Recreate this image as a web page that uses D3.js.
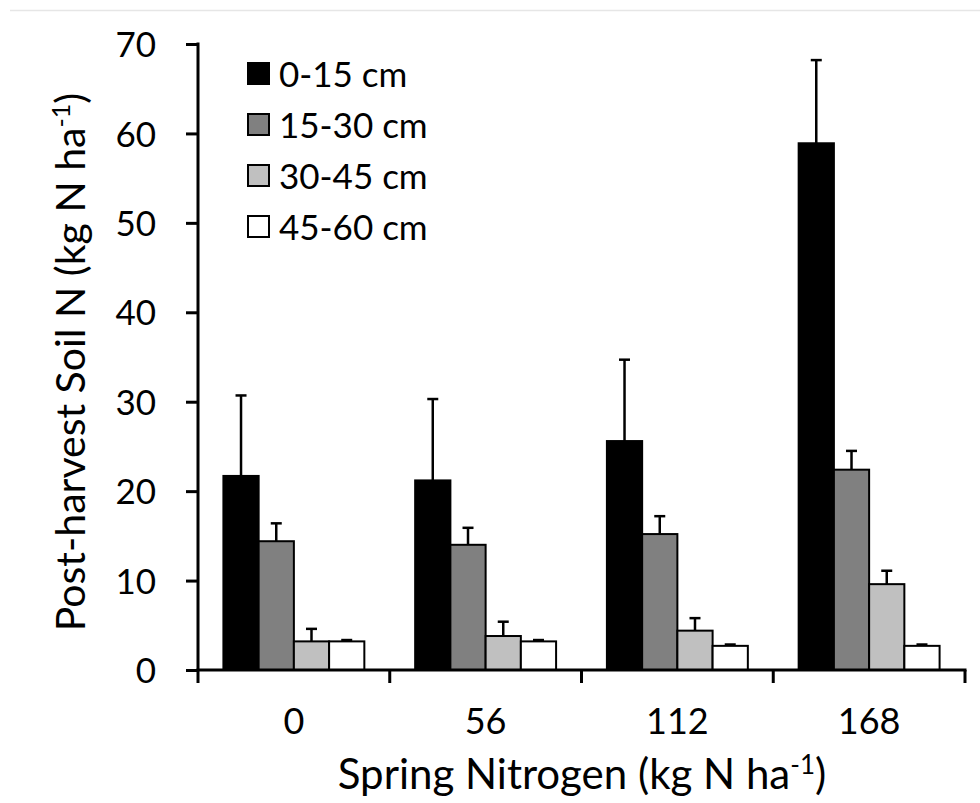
<!DOCTYPE html>
<html>
<head>
<meta charset="utf-8">
<script src="https://cdn.jsdelivr.net/npm/d3@7"></script>
<style>
html, body { margin: 0; padding: 0; background: #fff; }
svg text { font-family: Lato, "Open Sans", sans-serif; fill: #000; }
</style>
</head>
<body>
<svg id="chart" width="980" height="803"></svg>
<script>
(function(){
// spring N rates (kg N/ha) and soil depth layers
var categories = ["0", "56", "112", "168"];
var series = ["0-15 cm", "15-30 cm", "30-45 cm", "45-60 cm"];
var seriesColors = ["#000000", "#808080", "#c0c0c0", "#ffffff"];
// mean post-harvest soil N per layer, one array per depth
var depth0_15 = [21.7, 21.2, 25.6, 58.9];
var depth15_30 = [14.4, 14.0, 15.2, 22.4];
var depth30_45 = [3.2, 3.8, 4.4, 9.6];
var depth45_60 = [3.2, 3.2, 2.7, 2.7];
// upper error (standard error) per layer
var err0_15 = [9.0, 9.1, 9.1, 9.3];
var err15_30 = [2.0, 1.9, 2.0, 2.1];
var err30_45 = [1.4, 1.6, 1.4, 1.5];
var err45_60 = [0.15, 0.15, 0.15, 0.15];
var yTicks = [0, 10, 20, 30, 40, 50, 60, 70];

var values = [depth0_15, depth15_30, depth30_45, depth45_60];
var errors = [err0_15, err15_30, err30_45, err45_60];

var svg = d3.select("#chart");
var left = 198, right = 965, top = 44, bottom = 670;

// faint page border line at the top
svg.append("line")
	.attr("x1", 10).attr("x2", 980).attr("y1", 10.5).attr("y2", 10.5)
	.attr("stroke", "#e6e6e6").attr("stroke-width", 1.5);

var x0 = d3.scaleBand().domain(categories).range([left, right]).padding(0);
var bw = x0.bandwidth();
var gap = bw * 0.265;
var x1 = d3.scaleBand().domain(series).range([gap/2, bw - gap/2]).padding(0);
var y = d3.scaleLinear().domain([0, 70]).range([bottom, top]);

// flatten to rows for drawing
var rows = [];
categories.forEach(function(c, ci){
	series.forEach(function(s, si){
		rows.push({cat : c, ser : s, si : si, v : values[si][ci], e : errors[si][ci]});
	});
});

var g = svg.append("g");
g.selectAll("rect.bar").data(rows).enter().append("rect")
	.attr("class", "bar")
	.attr("x", function(d){return x0(d.cat) + x1(d.ser);})
	.attr("y", function(d){return y(d.v);})
	.attr("width", x1.bandwidth())
	.attr("height", function(d){return y(0) - y(d.v);})
	.attr("fill", function(d){return seriesColors[d.si];})
	.attr("stroke", "#000")
	.attr("stroke-width", 2);

// error bars, upward only
function cx(d){ return x0(d.cat) + x1(d.ser) + x1.bandwidth()/2; }
var eg = g.selectAll("g.err").data(rows).enter().append("g").attr("class", "err");
eg.append("line")
	.attr("x1", cx).attr("x2", cx)
	.attr("y1", function(d){return y(d.v);})
	.attr("y2", function(d){return y(d.v + d.e);})
	.attr("stroke", "#000").attr("stroke-width", 2.5);
eg.append("line")
	.attr("x1", function(d){return cx(d) - 5.5;})
	.attr("x2", function(d){return cx(d) + 5.5;})
	.attr("y1", function(d){return y(d.v + d.e);})
	.attr("y2", function(d){return y(d.v + d.e);})
	.attr("stroke", "#000").attr("stroke-width", 2.5);

// y axis
var yAxis = d3.axisLeft(y).tickValues(yTicks).tickSize(12).tickPadding(30);
var yg = svg.append("g").attr("transform", "translate(" + left + ",0)").call(yAxis);
yg.select(".domain").attr("d", "M0," + (top - 1.5) + "V" + bottom)
	.attr("stroke", "#000").attr("stroke-width", 3);
yg.selectAll(".tick line").attr("stroke-width", 3);
yg.selectAll(".tick text").style("font-size", "35px").attr("dy", "0.36em");

// x axis: ticks sit between categories
var xTickPos = categories.map(function(c){return x0(c);}).concat([right]);
var xg = svg.append("g").attr("transform", "translate(0," + bottom + ")");
xg.append("line").attr("x1", left - 1.5).attr("x2", right + 1.5)
	.attr("stroke", "#000").attr("stroke-width", 3);
xg.selectAll("line.xt").data(xTickPos).enter().append("line")
	.attr("class", "xt")
	.attr("x1", function(d){return d;}).attr("x2", function(d){return d;})
	.attr("y1", 0).attr("y2", 13)
	.attr("stroke", "#000").attr("stroke-width", 3);
xg.selectAll("text").data(categories).enter().append("text")
	.attr("x", function(d){return x0(d) + bw/2;})
	.attr("y", 64)
	.attr("text-anchor", "middle")
	.style("font-size", "36px")
	.text(function(d){return d;});

// axis titles
var xt = svg.append("text").attr("x", 582).attr("y", 789)
	.attr("text-anchor", "middle").style("font-size", "42px");
xt.append("tspan").text("Spring Nitrogen (kg N ha");
xt.append("tspan").attr("dy", -15).style("font-size", "26px").text("-1");
xt.append("tspan").attr("dy", 15).text(")");

var yt = svg.append("text").attr("transform", "translate(85,362) rotate(-90)")
	.attr("text-anchor", "middle").style("font-size", "41px");
yt.append("tspan").text("Post-harvest Soil N (kg N ha");
yt.append("tspan").attr("dy", -15).style("font-size", "25px").text("-1");
yt.append("tspan").attr("dy", 15).text(")");

// legend
var lg = svg.append("g").attr("transform", "translate(248,63)");
var li = lg.selectAll("g").data(series).enter().append("g")
	.attr("transform", function(d, i){return "translate(0," + (i * 51) + ")";});
li.append("rect").attr("width", 21).attr("height", 21)
	.attr("fill", function(d, i){return seriesColors[i];})
	.attr("stroke", "#000").attr("stroke-width", 2);
li.append("text").attr("x", 31).attr("y", 11).attr("dy", "0.36em")
	.style("font-size", "35px")
	.text(function(d){return d;});
})();
</script>
</body>
</html>
